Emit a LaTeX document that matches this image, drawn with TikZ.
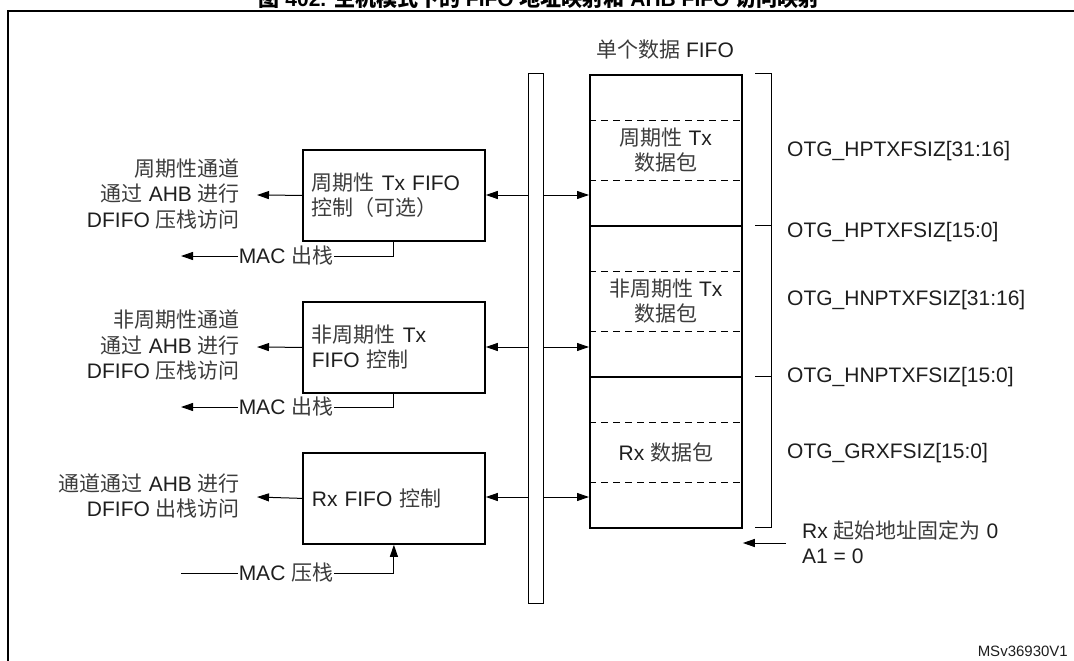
\documentclass[tikz,border=0pt]{standalone}
\usepackage{fontspec}
\setmainfont{Liberation Sans}
\newfontfamily\cjkf{Noto Sans CJK SC}
\definecolor{txt}{HTML}{1E1E1E}
\definecolor{cjkc}{HTML}{3C3C3C}
\newcommand\zhtxt[1]{{\cjkf\color{cjkc}#1}}
\newcommand\zhbold[1]{{\cjkf\bfseries #1}}
\usetikzlibrary{arrows.meta,calc}
\tikzset{
  thinln/.style={line width=1pt},
  thickln/.style={line width=1.8pt},
  arr/.style={thinln,-{Triangle[length=12pt,width=8pt]}},
  dashln/.style={thinln,dash pattern=on 7pt off 5pt},
  ctrlbox/.style={draw,thickln,minimum width=182pt,minimum height=91pt,
    anchor=north west,inner xsep=8pt,inner ysep=0pt,text width=164pt,align=left,
    font=\fontsize{21}{25}\selectfont,text=txt},
  fifosec/.style={draw,thickln,minimum width=152pt,minimum height=151pt,
    anchor=north west,inner sep=0pt},
  lbl/.style={font=\fontsize{21}{25.5}\selectfont,text=txt,inner sep=0pt},
  maclbl/.style={font=\fontsize{21}{25}\selectfont,text=txt,inner sep=0.5pt},
}
\begin{document}
\begin{tikzpicture}[x=1pt,y=-1pt]
\useasboundingbox (0,0) rectangle (1074,661);
% frame
\draw[line width=1.6pt] (8,661) -- (8,11) -- (1074,11);
% title
\node[anchor=base,inner sep=0pt,font=\fontsize{21}{25}\selectfont\bfseries,text=black] (title) at (539,7)
  {\zhbold{图} 402. \zhbold{主机模式下的} FIFO \zhbold{地址映射和} AHB FIFO \zhbold{访问映射}};

% control boxes
\node[ctrlbox] (b1) at (302,149) {\zhtxt{周期性} Tx FIFO\\\zhtxt{控制（可选）}};
\node[ctrlbox] (b2) at (302,301) {\zhtxt{非周期性} Tx\\FIFO \zhtxt{控制}};
\node[ctrlbox] (b3) at (302,452) {Rx FIFO \zhtxt{控制}};

% left texts
\node[lbl,align=right,anchor=east] (t1) at (240,193.5)
  {\zhtxt{周期性通道}\\\zhtxt{通过} AHB \zhtxt{进行}\\DFIFO \zhtxt{压栈访问}};
\node[lbl,align=right,anchor=east] (t2) at (240,345)
  {\zhtxt{非周期性通道}\\\zhtxt{通过} AHB \zhtxt{进行}\\DFIFO \zhtxt{压栈访问}};
\node[lbl,align=right,anchor=east] (t3) at (240,496)
  {\zhtxt{通道通过} AHB \zhtxt{进行}\\DFIFO \zhtxt{出栈访问}};

\coordinate (a1) at (257,195);
\coordinate (a2) at (257,347);
\coordinate (a3) at (257,497);
\draw[arr] (b1.west) -- (a1);
\draw[arr] (b2.west) -- (a2);
\draw[arr] (b3.west) -- (a3);

% MAC labels
\node[maclbl] (m1) at (286,256) {MAC \zhtxt{出栈}};
\node[maclbl] (m2) at (286,407) {MAC \zhtxt{出栈}};
\node[maclbl] (m3) at (286,573) {MAC \zhtxt{压栈}};
\coordinate (c1) at (181,256);
\coordinate (c2) at (181,407);
\coordinate (c3) at (181,573);
\draw[thinln] (b1.south) -- (b1.south |- m1.east) -- (m1.east);
\draw[arr] (m1.west) -- (c1);
\draw[thinln] (b2.south) -- (b2.south |- m2.east) -- (m2.east);
\draw[arr] (m2.west) -- (c2);
\draw[thinln] (c3) -- (m3.west);
\draw[arr] (m3.east) -- (m3.east -| b3.south) -- (b3.south);

% bus bar
\node[draw,thinln,minimum width=15pt,minimum height=530pt,anchor=north west,inner sep=0pt] (bus) at (528,73) {};

% FIFO
\node[lbl] (fifot) at (665,50) {\zhtxt{单个数据} FIFO};
\node[fifosec] (s1) at (589,74) {};
\node[fifosec] (s2) at (589,225) {};
\node[fifosec] (s3) at (589,376) {};
\foreach \s in {s1,s2,s3}{
  \draw[dashln] ($(\s.north west)+(0,46)$) -- ($(\s.north east)+(0,46)$);
  \draw[dashln] ($(\s.north west)+(0,106)$) -- ($(\s.north east)+(0,106)$);
}
\node[lbl,align=center,font=\fontsize{21}{25}\selectfont] (p1) at (s1.center) {\zhtxt{周期性} Tx\\\zhtxt{数据包}};
\node[lbl,align=center,font=\fontsize{21}{25}\selectfont] (p2) at (s2.center) {\zhtxt{非周期性} Tx\\\zhtxt{数据包}};
\node[lbl,align=center] (p3) at (s3.center) {Rx \zhtxt{数据包}};

% bus arrows
\draw[arr] (bus.west |- 0,195) -- (b1.east |- 0,195);
\draw[arr] (bus.east |- 0,195) -- (s1.west |- 0,195);
\draw[arr] (bus.west |- 0,347) -- (b2.east |- 0,347);
\draw[arr] (bus.east |- 0,347) -- (s2.west |- 0,347);
\draw[arr] (bus.west |- 0,497) -- (b3.east |- 0,497);
\draw[arr] (bus.east |- 0,497) -- (s3.west |- 0,497);

% bracket
\draw[thinln] (755,74) -- (771,74) -- (771,527) -- (755,527);
\draw[thinln] (755,225) -- (771,225);
\draw[thinln] (755,376) -- (771,376);

% register labels
\node[lbl,anchor=west] (r1) at (787,151) {OTG\_HPTXFSIZ[31:16]};
\node[lbl,anchor=west] (r2) at (787,232) {OTG\_HPTXFSIZ[15:0]};
\node[lbl,anchor=west] (r3) at (787,300) {OTG\_HNPTXFSIZ[31:16]};
\node[lbl,anchor=west] (r4) at (787,377) {OTG\_HNPTXFSIZ[15:0]};
\node[lbl,anchor=west] (r5) at (787,453) {OTG\_GRXFSIZ[15:0]};

% Rx start address
\node[lbl,align=left,anchor=west] (rx) at (802,542) {Rx \zhtxt{起始地址固定为} 0\\A1 = 0};
\coordinate (rxs) at (786,543);
\draw[arr] (rxs) -- (s3.east |- rxs);

% id
\node[inner sep=0pt,anchor=east,font=\fontsize{15}{18}\selectfont,text=txt] (id) at (1068,651) {MSv36930V1};
\end{tikzpicture}
\end{document}
